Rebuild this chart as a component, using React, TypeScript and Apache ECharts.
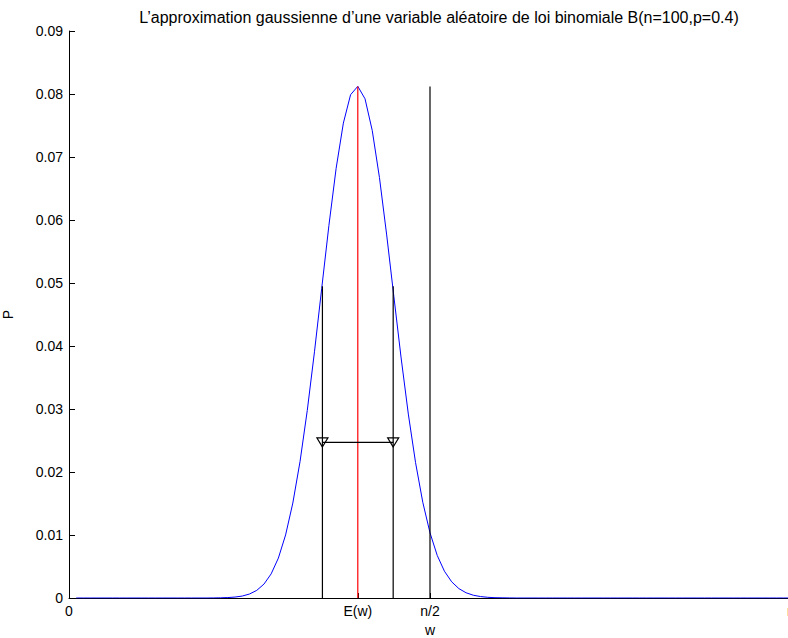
import React, { useEffect, useRef } from "react";
import * as echarts from "echarts";

// Binomial probabilities P(w = k) for k = 1..100
const PROBS: number[] = [
  0, 0, 0, 0, 0, 0, 0, 0, 0, 0,
  0, 0, 0, 0, 0, 0, 0, 0, 0, 0.00001,
  0.00003, 0.00007, 0.00015, 0.00031, 0.00063, 0.00121, 0.0022, 0.00383, 0.00634, 0.01001,
  0.01507, 0.02166, 0.02975, 0.03908, 0.04913, 0.05914, 0.0682, 0.07538, 0.07989, 0.08122,
  0.07924, 0.07421, 0.06673, 0.05763, 0.04781, 0.03811, 0.02919, 0.02149, 0.0152, 0.01034,
  0.00676, 0.00425, 0.00257, 0.00149, 0.00083, 0.00044, 0.00023, 0.00011, 0.00005, 0.00003,
  0.00001, 0, 0, 0, 0, 0, 0, 0, 0, 0,
  0, 0, 0, 0, 0, 0, 0, 0, 0, 0,
  0, 0, 0, 0, 0, 0, 0, 0, 0, 0,
  0, 0, 0, 0, 0, 0, 0, 0, 0, 0,
];

const X_TICKS: number[] = [0, 40, 50, 100];
const X_TICK_LABELS: string[] = ["0", "E(w)", "n/2", "n"];

const MEAN_LINE: number[][] = [[40, 0], [40, 0.0812]];
const HALF_N_LINE: number[][] = [[50, 0], [50, 0.0812]];
const LOW_SIGMA_LINE: number[][] = [[35.1, 0], [35.1, 0.0495]];
const HIGH_SIGMA_LINE: number[][] = [[44.9, 0], [44.9, 0.0495]];
const SPREAD_ARROW: number[][] = [[35.1, 0.0247], [44.9, 0.0247]];

const TITLE = "L\u2019approximation gaussienne d\u2019une variable aléatoire de loi binomiale B(n=100,p=0.4)";

export default function App() {
  const ref = useRef<HTMLDivElement>(null);
  useEffect(() => {
    if (!ref.current) return;
    const chart = echarts.init(ref.current, null, { renderer: "svg" });
    const font = "'Liberation Sans', Arial, Helvetica, sans-serif";
    const blackLine = (data: number[][]) => ({
      type: "line",
      data,
      showSymbol: false,
      symbol: "none",
      lineStyle: { color: "#000", width: 1.2 },
      z: 3,
    });
    chart.setOption({
      animation: false,
      backgroundColor: "#fff",
      textStyle: { fontFamily: font },
      title: {
        text: TITLE,
        left: 434,
        textAlign: "center",
        top: 4,
        textStyle: { fontFamily: font, fontSize: 16, fontWeight: "normal", color: "#000" },
      },
      grid: { left: 69, top: 31, width: 722, height: 567, containLabel: false, outerBoundsMode: "none" },
      xAxis: {
        type: "value",
        min: 0,
        max: 100,
        name: "w",
        nameLocation: "middle",
        nameGap: 23,
        nameTextStyle: { fontFamily: font, fontSize: 14, lineHeight: 14, color: "#000" },
        axisLine: { show: true, onZero: false, lineStyle: { color: "#000", width: 1 } },
        axisTick: { show: true, inside: true, length: 5, customValues: X_TICKS, lineStyle: { color: "#000" } },
        axisLabel: {
          customValues: X_TICKS,
          margin: 6,
          fontFamily: font,
          fontSize: 14,
          color: "#000",
          formatter: (v: number) => {
            const i = X_TICKS.indexOf(v);
            return i >= 0 ? X_TICK_LABELS[i] : "";
          },
        },
        splitLine: { show: false },
      },
      yAxis: {
        type: "value",
        min: 0,
        max: 0.09,
        interval: 0.01,
        name: "P",
        nameLocation: "middle",
        nameGap: 54,
        nameTextStyle: { fontFamily: font, fontSize: 14, color: "#000" },
        axisLine: { show: true, onZero: false, lineStyle: { color: "#000", width: 1 } },
        axisTick: { show: true, inside: true, length: 6, lineStyle: { color: "#000" } },
        axisLabel: {
          margin: 6,
          fontFamily: font,
          fontSize: 14,
          color: "#000",
          formatter: (v: number) => (v === 0 ? "0" : v.toFixed(2)),
        },
        splitLine: { show: false },
      },
      series: [
        {
          type: "line",
          data: PROBS.map((v, i) => [i + 1, v]),
          showSymbol: false,
          symbol: "none",
          lineStyle: { color: "#0000ff", width: 1 },
          z: 2,
        },
        {
          type: "line",
          data: MEAN_LINE,
          showSymbol: false,
          symbol: "none",
          lineStyle: { color: "#ff0000", width: 1.2 },
          z: 4,
        },
        blackLine(HALF_N_LINE),
        blackLine(LOW_SIGMA_LINE),
        blackLine(HIGH_SIGMA_LINE),
        {
          type: "line",
          data: SPREAD_ARROW,
          showSymbol: true,
          symbol: "triangle",
          symbolSize: [11, 9],
          symbolRotate: 180,
          itemStyle: { color: "rgba(255,255,255,0)", borderColor: "#000", borderWidth: 1.2 },
          lineStyle: { color: "#000", width: 1.2 },
          z: 5,
        },
      ],
    });
    return () => chart.dispose();
  }, []);
  return (
    <div
      ref={ref}
      style={{ position: "absolute", left: 0, top: 0, width: 788, height: 638, background: "#fff" }}
    />
  );
}
